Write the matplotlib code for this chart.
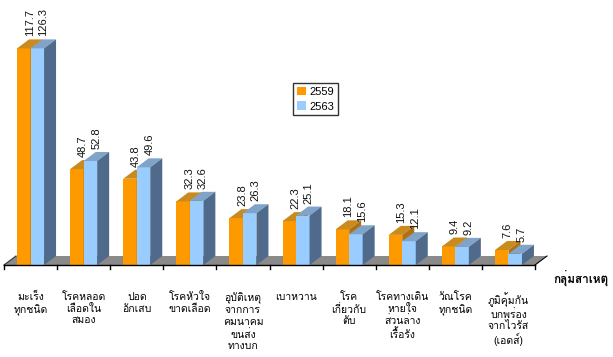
import numpy as np
import matplotlib
matplotlib.use("Agg")
import matplotlib.pyplot as plt
from matplotlib.patches import Polygon, Patch
from matplotlib import font_manager
from matplotlib.ft2font import FT2Font

categories = ["มะเร็ง\nทุกชนิด", "โรคหลอด\nเลือดใน\nสมอง", "ปอด\nอักเสบ",
              "โรคหัวใจ\nขาดเลือด", "อุบัติเหตุ\nจากการ\nคมนาคม\nขนส่ง\nทางบก",
              "เบาหวาน", "โรค\nเกี่ยวกับ\nตับ", "โรคทางเดิน\nหายใจ\nส่วนล่าง\nเรื้อรัง",
              "วัณโรค\nทุกชนิด", "ภูมิคุ้มกัน\nบกพร่อง\nจากไวรัส\n(เอดส์)"]
series_names = ["2559", "2563"]
values_2559 = [117.7, 48.7, 43.8, 32.3, 23.8, 22.3, 18.1, 15.3, 9.4, 7.6]
values_2563 = [126.3, 52.8, 49.6, 32.6, 26.3, 25.1, 15.6, 12.1, 9.2, 5.7]
x_title = "กลุ่มสาเหตุ"

# find a font that has Thai glyphs
thai_font = None
for f in font_manager.fontManager.ttflist:
    try:
        if 0x0E01 in FT2Font(f.fname).get_charmap():
            thai_font = f.name
            break
    except Exception:
        pass
fams = ["Liberation Sans", "DejaVu Sans"]
thai_fams = ([thai_font] if thai_font else []) + fams
plt.rcParams["font.family"] = fams

W, H = 613, 357
fig = plt.figure(figsize=(W / 100, H / 100), dpi=100)
# plot area in pixels: x 4..535, base at y=265
ax = fig.add_axes([4 / W, 1 - 265 / H, 531 / W, 256 / H])
ax.set_xlim(-0.5, 9.5)
ax.set_ylim(0, 130)
ax.axis("off")

px_x = 10 / 531.0          # category units per pixel
px_y = 130 / 256.0         # value units per pixel
dx, dy = 12 * px_x, 9 * px_y
bw = 13.5 * px_x
cap = 110                  # axis maximum, taller bars are cut here

front = {"2559": "#FF9900", "2563": "#99CCFF"}
top = {"2559": "#C98A1E", "2563": "#7FA3C9"}
side = {"2559": "#B07010", "2563": "#4F6A8A"}

# floor
ax.add_patch(Polygon([(-0.5, 0), (9.5, 0), (9.5 + dx, dy), (-0.5 + dx, dy)],
                     closed=True, fc="#8A8A8A", ec="none", zorder=1, clip_on=False))
ax.plot([-0.5, 9.5], [0, 0], color="black", lw=1, zorder=5, clip_on=False)
ax.plot([-0.5, -0.5 + dx], [0, dy], color="#333333", lw=0.8, zorder=1, clip_on=False)
ax.plot([9.5, 9.5 + dx], [0, dy], color="black", lw=0.8, zorder=1, clip_on=False)
for k in range(11):
    ax.plot([-0.5 + k, -0.5 + k], [0, -4 * px_y], color="black", lw=1,
            zorder=5, clip_on=False)

x = np.arange(len(categories))
for i in x:
    for j, (name, vals) in enumerate([("2559", values_2559), ("2563", values_2563)]):
        v = vals[i]
        h = min(v, cap)
        x0 = i - bw + j * bw
        x1 = x0 + bw
        z = 2 + j
        ax.bar(x0, h, width=bw, align="edge", color=front[name], zorder=z)
        ax.add_patch(Polygon([(x0, h), (x1, h), (x1 + dx, h + dy), (x0 + dx, h + dy)],
                             closed=True, fc=top[name], ec="none", zorder=z, clip_on=False))
        ax.add_patch(Polygon([(x1, 0), (x1 + dx, dy), (x1 + dx, h + dy), (x1, h)],
                             closed=True, fc=side[name], ec="none", zorder=z, clip_on=False))
        ax.text(x0 + bw / 2 + dx / 2, h + dy + 3 * px_y, f"{v:.1f}", rotation=90,
                ha="center", va="bottom", fontsize=8, color="#111111", clip_on=False)

for i, lab in enumerate(categories):
    ax.text(i, -27 * px_y, lab, ha="center", va="top", fontsize=7.5,
            family=thai_fams, linespacing=1.2, clip_on=False)

fig.text(581 / W, 1 - 278 / H, x_title, ha="center", va="center", fontsize=8.5,
         fontweight="bold", family=thai_fams)

handles = [Patch(fc=front[n], ec="none") for n in series_names]
leg = fig.legend(handles, series_names, loc="upper left",
                 bbox_to_anchor=(293 / W, 1 - 83 / H), fontsize=8, frameon=True,
                 fancybox=False, handlelength=0.8, handleheight=0.8,
                 handletextpad=0.3, borderpad=0.35, labelspacing=0.4,
                 borderaxespad=0)
leg.get_frame().set_edgecolor("black")
leg.get_frame().set_linewidth(1)

fig.savefig("out.png", dpi=100)
